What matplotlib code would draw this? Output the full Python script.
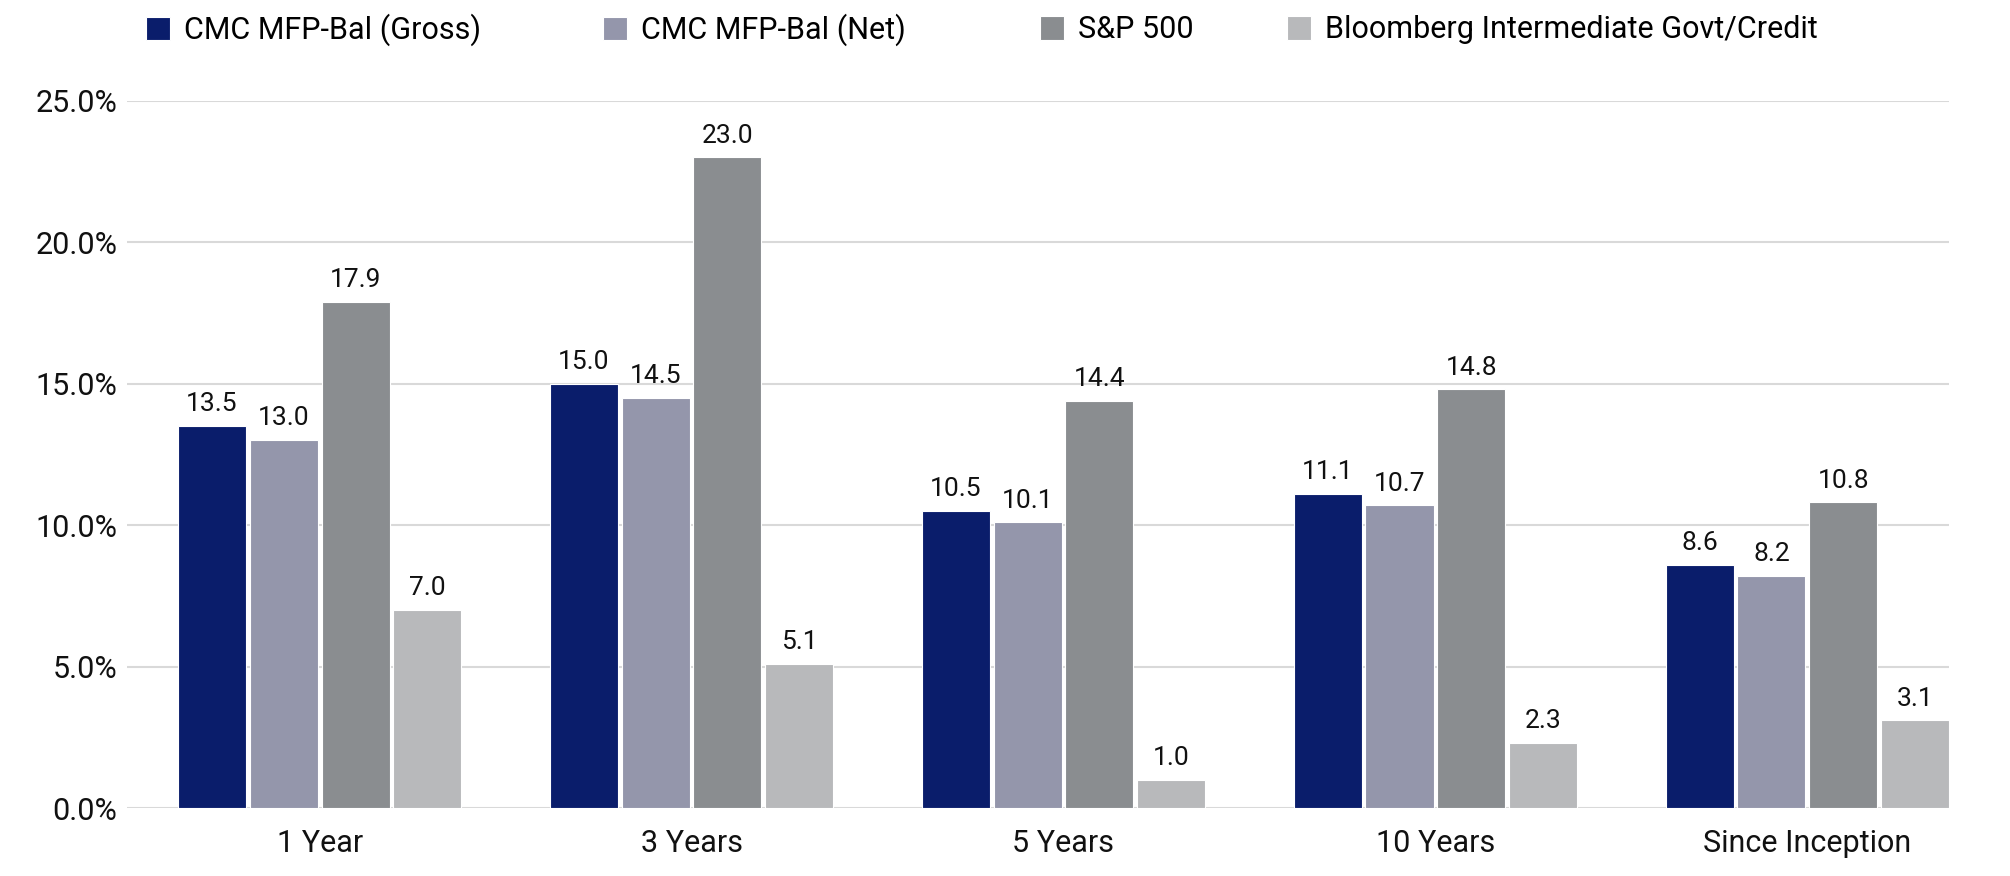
import matplotlib
matplotlib.use("Agg")
import matplotlib.pyplot as plt
import numpy as np

categories = ["1 Year", "3 Years", "5 Years", "10 Years", "Since Inception"]
series_names = ["CMC MFP-Bal (Gross)", "CMC MFP-Bal (Net)", "S&P 500",
                "Bloomberg Intermediate Govt/Credit"]
gross = [13.5, 15.0, 10.5, 11.1, 8.6]
net = [13.0, 14.5, 10.1, 10.7, 8.2]
sp500 = [17.9, 23.0, 14.4, 14.8, 10.8]
bloomberg = [7.0, 5.1, 1.0, 2.3, 3.1]
y_ticks = [0, 5, 10, 15, 20, 25]

colors = ["#0a1d6b", "#9496ab", "#8a8d90", "#b8b9bb"]

plt.rcParams['font.family'] = ['Roboto', 'DejaVu Sans']

W, H = 2010, 876
fig = plt.figure(figsize=(W / 100, H / 100), dpi=100)
ax = fig.add_axes([127 / W, 1 - 808 / H, (1949 - 127) / W, (808 - 100.7) / H])

x = np.arange(len(categories))
pitch = 0.193
width = 0.183
all_series = [gross, net, sp500, bloomberg]
handles = []
for i, (vals, name, c) in enumerate(zip(all_series, series_names, colors)):
    pos = x + (i - 1.5) * pitch
    bars = ax.bar(pos, vals, width=width, color=c, edgecolor="white",
                  linewidth=0.8, label=name, zorder=3)
    handles.append(bars)
    for b, v in zip(bars, vals):
        ax.annotate(f"{v:.1f}", (b.get_x() + b.get_width() / 2, v),
                    xytext=(0, 7), textcoords="offset points",
                    ha="center", va="bottom", fontsize=19, color="#111111")

ax.set_ylim(0, 25)
ax.set_xlim(-0.518, 4 + 1.5 * pitch + width / 2)
ax.set_yticks(y_ticks)
ax.set_yticklabels([f"{t:.1f}%" for t in y_ticks], fontsize=22)
ax.set_xticks(x)
ax.set_xticklabels(categories, fontsize=22)
ax.tick_params(axis="both", length=0, colors="#111111")
ax.tick_params(axis="y", pad=7)
ax.tick_params(axis="x", pad=15)
ax.yaxis.grid(True, color="#d9d9d9", linewidth=1.5, zorder=0)
ax.set_axisbelow(True)
for s in ax.spines.values():
    s.set_visible(False)

# legend entries at reference positions
legend_x = [146, 603, 1040, 1287]
for h, name, lx in zip(handles, series_names, legend_x):
    fig.legend([h], [name], loc="center left", bbox_to_anchor=(lx / W, 1 - 30 / H),
               frameon=False, fontsize=22, handlelength=0.78, handleheight=0.8,
               handletextpad=0.45, borderpad=0, borderaxespad=0)

fig.savefig("out.png", dpi=100, facecolor="white")
